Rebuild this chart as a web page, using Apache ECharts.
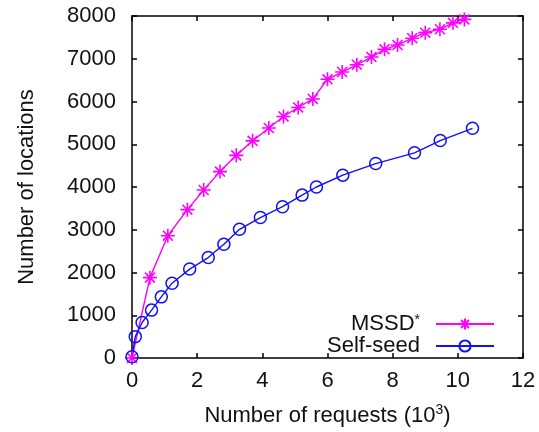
<!DOCTYPE html>
<html>
<head>
<meta charset="utf-8">
<script src="https://cdn.jsdelivr.net/npm/echarts@6/dist/echarts.min.js"></script>
<style>html,body{margin:0;padding:0;background:#fff}#c{width:539px;height:432px}</style>
</head>
<body>
<div id="c"></div>
<script>
const mssdX = [0, 0.55, 1.1, 1.7, 2.2, 2.7, 3.2, 3.7, 4.2, 4.65, 5.1, 5.55, 6.0, 6.45, 6.9, 7.35, 7.75, 8.15, 8.6, 9.0, 9.45, 9.85, 10.2];
const mssdY = [0, 1880, 2860, 3470, 3930, 4360, 4740, 5080, 5380, 5650, 5860, 6060, 6520, 6690, 6860, 7040, 7220, 7320, 7480, 7610, 7690, 7840, 7920];
const selfX = [0, 0.1, 0.31, 0.6, 0.9, 1.23, 1.77, 2.34, 2.82, 3.3, 3.94, 4.62, 5.22, 5.66, 6.47, 7.48, 8.67, 9.46, 10.45];
const selfY = [30, 500, 830, 1120, 1430, 1750, 2080, 2350, 2660, 3010, 3285, 3540, 3810, 4000, 4277, 4548, 4800, 5087, 5373];
const xTicks = [0, 2, 4, 6, 8, 10, 12];
const yTicks = [0, 1000, 2000, 3000, 4000, 5000, 6000, 7000, 8000];
const seriesNames = ['MSSD*', 'Self-seed'];
const xTitle = 'Number of requests (10{sup|3})';
const yTitle = 'Number of locations';

const FONT = 'Liberation Sans, Arial, sans-serif';
const FS = 22;
const MAG = '#ff00ff', BLUE = '#1010f0';
const starPath = 'path://M0,-10L0,10M-10,0L10,0M-7.07,-7.07L7.07,7.07M-7.07,7.07L7.07,-7.07';
const circPath = 'path://M10,0A10,10 0 1,1 -10,0A10,10 0 1,1 10,0Z';

const zip = (xs, ys) => xs.map((x, i) => [x, ys[i]]);
const chart = echarts.init(document.getElementById('c'), null, {renderer: 'canvas'});
const axisCommon = {
  type: 'value',
  axisLine: {show: true, onZero: false, lineStyle: {color: '#000', width: 1.5}},
  axisTick: {show: true, inside: true, length: 5, lineStyle: {color: '#000', width: 1.5}},
  splitLine: {show: false}
};
const legendText = {
  color: '#111', fontSize: FS, fontFamily: FONT, padding: [0, 11, 0, 0],
  rich: {
    n: {color: '#111', fontSize: FS, fontFamily: FONT},
    s: {color: '#111', fontSize: 14, fontFamily: FONT, verticalAlign: 'top', padding: [0, 0, 8, 0]}
  }
};
const legendFmt = name => name.endsWith('*') ? '{n|' + name.slice(0, -1) + '}{s|*}' : name;
chart.setOption({
  animation: false,
  textStyle: {fontFamily: FONT},
  grid: {left: 132, right: 16, top: 16, bottom: 70, containLabel: false},
  xAxis: [
    Object.assign({}, axisCommon, {
      min: 0, max: 12, interval: 2, position: 'bottom',
      axisLabel: {color: '#111', fontSize: FS, fontFamily: FONT, margin: 12,
        formatter: v => xTicks.includes(v) ? String(v) : ''},
      name: xTitle, nameLocation: 'middle', nameGap: 45,
      nameTextStyle: {color: '#111', fontSize: FS, fontFamily: FONT,
        rich: {sup: {fontSize: 14, verticalAlign: 'top', padding: [0, 0, 12, 0], color: '#111', fontFamily: FONT}}}
    }),
    Object.assign({}, axisCommon, {min: 0, max: 12, interval: 2, position: 'top', axisLabel: {show: false}})
  ],
  yAxis: [
    Object.assign({}, axisCommon, {
      min: 0, max: 8000, interval: 1000, position: 'left',
      axisLabel: {color: '#111', fontSize: FS, fontFamily: FONT, margin: 16,
        formatter: v => yTicks.includes(v) ? String(v) : ''},
      name: yTitle, nameLocation: 'middle', nameGap: 94, nameRotate: 90,
      nameTextStyle: {color: '#111', fontSize: FS, fontFamily: FONT}
    }),
    Object.assign({}, axisCommon, {min: 0, max: 8000, interval: 1000, position: 'right', axisLabel: {show: false}})
  ],
  legend: [
    {
      data: [seriesNames[0]], orient: 'vertical', right: 44, top: 313, align: 'right',
      itemWidth: 58, itemHeight: 14, padding: 0, formatter: legendFmt,
      textStyle: legendText
    },
    {
      data: [seriesNames[1]], orient: 'vertical', right: 44, top: 335, align: 'right',
      itemWidth: 58, itemHeight: 14, padding: 0, formatter: legendFmt,
      textStyle: legendText
    }
  ],
  series: [
    {
      name: seriesNames[0], type: 'line', xAxisIndex: 0, yAxisIndex: 0,
      data: zip(mssdX, mssdY), clip: false,
      symbol: starPath, symbolSize: 14, showAllSymbol: true,
      lineStyle: {color: MAG, width: 1.4},
      itemStyle: {color: MAG, borderColor: MAG, borderWidth: 1.6}
    },
    {
      name: seriesNames[1], type: 'line', xAxisIndex: 0, yAxisIndex: 0,
      data: zip(selfX, selfY), clip: false,
      symbol: circPath, symbolSize: 12, showAllSymbol: true,
      lineStyle: {color: BLUE, width: 1.4},
      itemStyle: {color: 'rgba(0,0,255,0)', borderColor: BLUE, borderWidth: 1.5}
    }
  ]
});
</script>
</body>
</html>
